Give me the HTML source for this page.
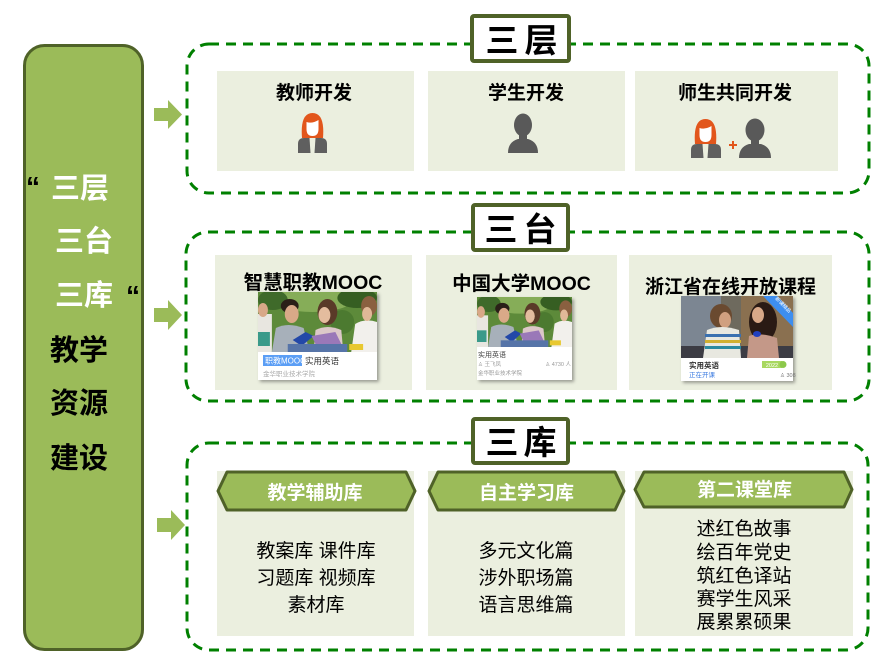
<!DOCTYPE html>
<html><head><meta charset="utf-8"><style>
html,body{margin:0;padding:0;background:#fff;}
svg{display:block;}
text{font-family:"Liberation Sans","Noto Sans CJK SC",sans-serif;}
</style></head><body>
<svg width="891" height="667" viewBox="0 0 891 667" xmlns="http://www.w3.org/2000/svg">
<defs>
<filter id="sh" x="-10%" y="-10%" width="130%" height="130%"><feDropShadow dx="2" dy="2" stdDeviation="1.5" flood-color="#000" flood-opacity="0.35"/></filter>
<symbol id="photo1" viewBox="0 0 120 60" preserveAspectRatio="none">
<rect width="120" height="60" fill="#5d8a3a"/>
<ellipse cx="55" cy="8" rx="40" ry="12" fill="#86ad58"/>
<ellipse cx="100" cy="6" rx="20" ry="10" fill="#365e22"/>
<ellipse cx="15" cy="8" rx="15" ry="10" fill="#3f6a2a"/>
<ellipse cx="85" cy="30" rx="12" ry="12" fill="#4c7a30"/>
<rect x="0" y="22" width="14" height="38" fill="#e8e6e0"/>
<ellipse cx="5" cy="18" rx="5" ry="7" fill="#d8a888"/>
<rect x="0" y="40" width="12" height="14" fill="#3a9a8a"/>
<path d="M14,60 L18,36 Q30,30 46,36 L52,60 Z" fill="#a7b0ba"/>
<ellipse cx="32" cy="14" rx="9" ry="7" fill="#2a2018"/>
<ellipse cx="34" cy="22" rx="7" ry="9" fill="#d9a988"/>
<path d="M56,60 L58,38 Q70,32 84,38 L86,60 Z" fill="#dcc8c8"/>
<ellipse cx="70" cy="20" rx="10" ry="13" fill="#5a3a28"/>
<ellipse cx="67" cy="23" rx="6" ry="8" fill="#e4bc9e"/>
<path d="M94,60 L98,32 Q108,26 120,30 L120,60 Z" fill="#f2f0ec"/>
<ellipse cx="112" cy="14" rx="8" ry="10" fill="#8a6040"/>
<ellipse cx="110" cy="22" rx="5" ry="7" fill="#e0b898"/>
<path d="M35,48 L48,40 L56,44 L44,54 Z" fill="#2348a8"/>
<path d="M54,44 L78,40 L84,52 L60,56 Z" fill="#9a78b8"/>
<rect x="30" y="52" width="60" height="8" fill="#5674a8"/>
<rect x="92" y="52" width="14" height="6" fill="#e8c830"/>
</symbol>
<symbol id="photo3" viewBox="0 0 112 62" preserveAspectRatio="none">
<rect width="112" height="62" fill="#6e6a5e"/>
<rect x="0" y="0" width="40" height="62" fill="#7c8692"/>
<rect x="60" y="0" width="52" height="62" fill="#8a7050"/>
<rect x="0" y="50" width="112" height="12" fill="#3c3c44"/>
<ellipse cx="40" cy="20" rx="11" ry="12" fill="#6a4a30"/>
<ellipse cx="44" cy="24" rx="6" ry="8" fill="#d0a080"/>
<path d="M22,62 L26,34 Q40,28 58,34 L60,62 Z" fill="#e8e8e0"/>
<rect x="24" y="38" width="36" height="3" fill="#3a70b0"/>
<rect x="24" y="44" width="36" height="3" fill="#d0b030"/>
<rect x="24" y="50" width="36" height="3" fill="#2a8aa0"/>
<ellipse cx="82" cy="26" rx="14" ry="20" fill="#2a1a14"/>
<ellipse cx="77" cy="19" rx="6" ry="8" fill="#d8a888"/>
<path d="M66,62 L68,40 Q80,36 96,42 L98,62 Z" fill="#c49888"/>
<ellipse cx="76" cy="38" rx="4" ry="3" fill="#2040c0"/>
<polygon points="82,0 96,0 112,17 112,31" fill="#3d8ef0"/>
</symbol>
</defs>

<!-- Left panel -->
<rect x="24.5" y="45.5" width="118" height="604" rx="20" fill="#9bbb59" stroke="#4f6228" stroke-width="3"/>
<text x="26" y="196" font-size="28" font-weight="bold" fill="#000">“</text>
<text x="51" y="198" font-size="29" font-weight="bold" fill="#fff">三层</text>
<text x="55" y="251" font-size="29" font-weight="bold" fill="#fff">三台</text>
<text x="55" y="305" font-size="29" font-weight="bold" fill="#fff">三库</text>
<text x="126" y="305" font-size="28" font-weight="bold" fill="#000">“</text>
<text x="50" y="360" font-size="29" font-weight="bold" fill="#000">教学</text>
<text x="50" y="413" font-size="29" font-weight="bold" fill="#000">资源</text>
<text x="50" y="468" font-size="29" font-weight="bold" fill="#000">建设</text>

<!-- Arrows -->
<polygon points="154,108 168,108 168,100 182,114.5 168,129 168,121 154,121" fill="#9bbb59"/>
<polygon points="154,308 168,308 168,300 182,315 168,330 168,322 154,322" fill="#9bbb59"/>
<polygon points="157,518 171,518 171,510 185,525 171,540 171,532 157,532" fill="#9bbb59"/>

<!-- Dashed boxes -->
<rect x="187" y="44" width="682" height="149" rx="22" fill="none" stroke="#008000" stroke-width="3" stroke-dasharray="10 7"/>
<rect x="186" y="232" width="683" height="169" rx="22" fill="none" stroke="#008000" stroke-width="3" stroke-dasharray="10 7"/>
<rect x="187" y="443" width="681" height="207" rx="22" fill="none" stroke="#008000" stroke-width="3" stroke-dasharray="10 7"/>

<!-- Label boxes -->
<rect x="472" y="16" width="97" height="45" rx="2" fill="#fff" stroke="#4f6228" stroke-width="4"/>
<text x="502" y="52" font-size="33" font-weight="bold" text-anchor="middle" fill="#000">三</text>
<text x="541" y="52" font-size="33" font-weight="bold" text-anchor="middle" fill="#000">层</text>
<rect x="473" y="205" width="95" height="45" rx="2" fill="#fff" stroke="#4f6228" stroke-width="4"/>
<text x="501" y="241" font-size="33" font-weight="bold" text-anchor="middle" fill="#000">三</text>
<text x="540" y="241" font-size="33" font-weight="bold" text-anchor="middle" fill="#000">台</text>
<rect x="473" y="419" width="95" height="44" rx="2" fill="#fff" stroke="#4f6228" stroke-width="4"/>
<text x="502" y="454" font-size="33" font-weight="bold" text-anchor="middle" fill="#000">三</text>
<text x="540" y="454" font-size="33" font-weight="bold" text-anchor="middle" fill="#000">库</text>

<!-- Row 1 cards -->
<rect x="217" y="71" width="197" height="100" fill="#ebefdf"/>
<rect x="428" y="71" width="197" height="100" fill="#ebefdf"/>
<rect x="635" y="71" width="203" height="100" fill="#ebefdf"/>
<text x="314" y="99" font-size="19" font-weight="bold" text-anchor="middle" fill="#000">教师开发</text>
<text x="526" y="99" font-size="19" font-weight="bold" text-anchor="middle" fill="#000">学生开发</text>
<text x="735" y="99" font-size="19" font-weight="bold" text-anchor="middle" fill="#000">师生共同开发</text>

<!-- female icon card1 -->
<g transform="translate(297,113)">
<path d="M5,25 Q3,0 15.5,0 Q28,0 26,25 Z" fill="#e2561c"/>
<path d="M9.5,9 Q15,11 21.5,7 L21.5,16 Q21.5,23 15.5,23 Q9.5,23 9.5,16 Z" fill="#fff"/>
<path d="M1,40 L1,31 Q1,25 7,25 L12.5,25 L13.5,40 Z" fill="#5f5f5f"/>
<path d="M30,40 L30,31 Q30,25 24,25 L18.5,25 L17.5,40 Z" fill="#5f5f5f"/>
</g>
<!-- male icon card2 -->
<g transform="translate(508,114)">
<ellipse cx="15" cy="11" rx="9" ry="11.5" fill="#595959"/>
<rect x="11" y="18" width="8" height="8" fill="#595959"/>
<path d="M0,39 Q0,28 10,25 L20,25 Q30,28 30,39 Z" fill="#595959"/>
</g>
<!-- card3 icons -->
<g transform="translate(690,119)">
<path d="M5,25 Q3,0 15.5,0 Q28,0 26,25 Z" fill="#e2561c"/>
<path d="M9.5,9 Q15,11 21.5,7 L21.5,16 Q21.5,23 15.5,23 Q9.5,23 9.5,16 Z" fill="#fff"/>
<path d="M1,39 L1,31 Q1,25 7,25 L12.5,25 L13.5,39 Z" fill="#5f5f5f"/>
<path d="M31,39 L31,31 Q31,25 25,25 L18.5,25 L17.5,39 Z" fill="#5f5f5f"/>
</g>
<rect x="729" y="144" width="8" height="2" fill="#e2561c"/>
<rect x="732" y="141" width="2" height="8" fill="#e2561c"/>
<g transform="translate(739,119)">
<ellipse cx="16" cy="11" rx="9.5" ry="11.5" fill="#595959"/>
<rect x="12" y="18" width="8" height="8" fill="#595959"/>
<path d="M0,39 Q0,28 10,25 L22,25 Q32,28 32,39 Z" fill="#595959"/>
</g>

<!-- Row 2 cards -->
<rect x="215" y="255" width="197" height="135" fill="#ebefdf"/>
<rect x="426" y="255" width="191" height="135" fill="#ebefdf"/>
<rect x="629" y="255" width="203" height="135" fill="#ebefdf"/>
<text x="313" y="289" font-size="19.5" font-weight="bold" text-anchor="middle" fill="#000">智慧职教MOOC</text>
<text x="521.5" y="290" font-size="19.5" font-weight="bold" text-anchor="middle" fill="#000">中国大学MOOC</text>
<text x="730.5" y="293" font-size="19" font-weight="bold" text-anchor="middle" fill="#000">浙江省在线开放课程</text>

<!-- image card 1 -->
<rect x="258" y="292" width="119" height="88" fill="#fff" filter="url(#sh)"/>
<use href="#photo1" x="258" y="292" width="119" height="60"/>
<rect x="263" y="355" width="39" height="11" fill="#5b9ef5"/>
<text x="265" y="363.5" font-size="8" fill="#fff">职教MOOC</text>
<text x="305" y="364" font-size="8.5" fill="#333">实用英语</text>
<text x="263" y="376" font-size="6.5" fill="#aaa">金华职业技术学院</text>

<!-- image card 2 -->
<rect x="477" y="297" width="95" height="83" fill="#fff" filter="url(#sh)"/>
<use href="#photo1" x="477" y="297" width="95" height="50"/>
<text x="478" y="357" font-size="7" fill="#444">实用英语</text>
<text x="478" y="366" font-size="5.5" fill="#999">♙ 王飞凤</text>
<text x="571" y="366" font-size="5.5" fill="#999" text-anchor="end">♙ 4730 人</text>
<text x="478" y="375" font-size="5.5" fill="#999">金华职业技术学院</text>

<!-- image card 3 -->
<rect x="681" y="296" width="112" height="85" fill="#fff" filter="url(#sh)"/>
<use href="#photo3" x="681" y="296" width="112" height="62"/>
<text x="782" y="306" font-size="5" fill="#fff" text-anchor="middle" transform="rotate(45 782 306)">新课精品</text>
<text x="689" y="368" font-size="7.5" font-weight="bold" fill="#333">实用英语</text>
<rect x="762" y="361" width="20" height="7" fill="#a8d860"/>
<text x="772" y="367" font-size="5.5" fill="#fff" text-anchor="middle">2022</text>
<circle cx="783" cy="364.5" r="3.5" fill="#8cc84a"/>
<text x="689" y="377" font-size="6.5" fill="#3a7ae0">正在开课</text>
<text x="780" y="377" font-size="5.5" fill="#777">♙ 308</text>

<!-- Row 3 cards -->
<rect x="217" y="471" width="197" height="165" fill="#ebefdf"/>
<rect x="428" y="471" width="197" height="165" fill="#ebefdf"/>
<rect x="635" y="471" width="218" height="165" fill="#ebefdf"/>
<polygon points="218,491 227,472 406,472 415,491 406,510 227,510" fill="#9bbb59" stroke="#4f6228" stroke-width="3" stroke-linejoin="round"/>
<polygon points="429,491 438,472 615,472 624,491 615,510 438,510" fill="#9bbb59" stroke="#4f6228" stroke-width="3" stroke-linejoin="round"/>
<polygon points="635,489.5 644,472 844,472 852,489.5 844,507 644,507" fill="#9bbb59" stroke="#4f6228" stroke-width="3" stroke-linejoin="round"/>
<text x="315" y="499" font-size="19" font-weight="bold" text-anchor="middle" fill="#fff">教学辅助库</text>
<text x="526.5" y="499" font-size="19" font-weight="bold" text-anchor="middle" fill="#fff">自主学习库</text>
<text x="744.5" y="496" font-size="19" font-weight="bold" text-anchor="middle" fill="#fff">第二课堂库</text>

<g font-size="19" text-anchor="middle" fill="#000">
<text x="316" y="557">教案库 课件库</text>
<text x="316" y="584">习题库 视频库</text>
<text x="316" y="611">素材库</text>
<text x="526" y="557">多元文化篇</text>
<text x="526" y="584">涉外职场篇</text>
<text x="526" y="611">语言思维篇</text>
<text x="744" y="535">述红色故事</text>
<text x="744" y="558.5">绘百年党史</text>
<text x="744" y="582">筑红色译站</text>
<text x="744" y="605">赛学生风采</text>
<text x="744" y="628">展累累硕果</text>
</g>
</svg>
</body></html>
